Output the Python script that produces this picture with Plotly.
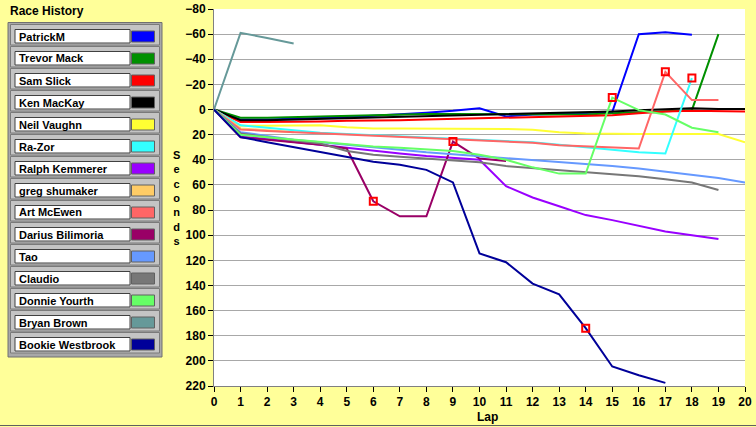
import plotly.graph_objects as go

laps = list(range(0, 21))
racers = ["PatrickM", "Trevor Mack", "Sam Slick", "Ken MacKay", "Neil Vaughn", "Ra-Zor",
          "Ralph Kemmerer", "greg shumaker", "Art McEwen", "Darius Bilimoria", "Tao",
          "Claudio", "Donnie Yourth", "Bryan Brown", "Bookie Westbrook"]
colors = ["#0000FF", "#009000", "#FF0000", "#000000", "#FFFF33", "#33FFFF",
          "#9900FF", "#FFCC66", "#FF6666", "#990066", "#6699FF",
          "#777777", "#66FF66", "#669999", "#000099"]

patrickm = [0, 8, 8, 7.5, 7, 6, 5, 4, 2.5, 1, -1, 5.5, 4, 3.5, 3, 2, -60, -61.5, -59.5]
trevor_mack = [0, 6.5, 6.5, 6, 5, 5, 4.5, 4, 3.5, 3.5, 3.5, 3.5, 4, 4, 4, 3, 2, 1, 0.5, -60]
sam_slick = [0, 10, 10, 10, 9.5, 9, 9, 8.5, 8, 7.5, 7, 6.5, 6.5, 6, 5, 4.5, 3, 1.5, 1, 1, 1.5]
ken_mackay = [0, 8.5, 8.5, 8, 7.5, 7, 6.5, 6, 5.5, 5, 4.5, 4, 3.5, 3, 2.5, 1.5, 0.5, 0, -1, -0.5, -0.5]
neil_vaughn = [0, 13, 13, 12.5, 12.5, 14, 15, 15, 15, 15.5, 15.5, 15.5, 16, 18, 19, 19.5, 19.5, 19.5, 19.5, 19.5, 26]
ra_zor = [0, 12.5, 14.5, 16.5, 18.5, 19.5, 20.5, 21.5, 22, 23, 24, 25, 26, 28, 30, 32, 34, 35, -25]
ralph_kemmerer = [0, 21.5, 23.5, 25.5, 28, 30.5, 33, 35, 37, 38.5, 40, 61, 70, 77, 84, 88, 92.5, 97, 100, 103]
greg_shumaker = [0, 15, 16.5, 18]
art_mcewen = [0, 16, 17, 18, 19, 20, 21, 21.5, 22.5, 23.5, 24.5, 25.5, 26.5, 28.5, 29.5, 30, 31, -30, -7.5, -7.5]
darius_bilimoria = [0, 22, 24, 26, 28, 31, 73, 85, 85, 25.5, 39, 41]
tao = [0, 18, 21, 24, 26, 28, 30.5, 32, 34, 35.5, 37, 38.5, 40, 41.5, 43, 45, 47, 49.5, 51.5, 54.5, 58]
claudio = [0, 19, 22, 24.5, 27, 33, 36, 37.5, 39, 41, 42, 45, 46.5, 48, 49.5, 51, 53, 55.5, 58, 64]
donnie_yourth = [0, 20, 22, 24, 26, 27.5, 29.5, 30.5, 31.5, 33, 36, 40, 46, 51, 51, -9.5, 0.5, 4, 14.5, 18]
bryan_brown = [0, -61, -57, -52.5]
bookie_westbrook = [0, 22, 26, 30, 34, 37.5, 41.5, 44, 48, 58, 114.5, 121.5, 138.5, 147, 174, 204.5, 211.5, 217.5]

series = [patrickm, trevor_mack, sam_slick, ken_mackay, neil_vaughn, ra_zor, ralph_kemmerer,
          greg_shumaker, art_mcewen, darius_bilimoria, tao, claudio, donnie_yourth,
          bryan_brown, bookie_westbrook]

# pit stops (racer, lap)
pit_racers = ["Darius Bilimoria", "Darius Bilimoria", "Bookie Westbrook", "Donnie Yourth", "Art McEwen", "Ra-Zor"]
pit_laps = [6, 9, 14, 15, 17, 18]

y_ticks = list(range(-80, 221, 20))
x_ticks = list(range(0, 21))

fig = go.Figure()
for name, col, vals in zip(racers, colors, series):
    fig.add_trace(go.Scatter(x=laps[:len(vals)], y=vals, mode="lines", name=name,
                             line=dict(color=col, width=2), showlegend=False))

pit_y = [series[racers.index(r)][l] for r, l in zip(pit_racers, pit_laps)]
fig.add_trace(go.Scatter(x=pit_laps, y=pit_y, mode="markers", showlegend=False,
                         marker=dict(symbol="square-open", size=7, color="#FF0000",
                                     line=dict(width=2, color="#FF0000"))))

W, H = 756, 427
L, R, T, B = 214, 745, 9, 386


def px(x):
    return (x - L) / (R - L)


def py(y):
    return (B - y) / (B - T)


FONT = "Liberation Sans, Arial"
shapes = []
annotations = []
# legend frame
shapes.append(dict(type="rect", xref="paper", yref="paper", x0=px(8), x1=px(162), y0=py(22.5), y1=py(357),
                   fillcolor="#A8A8A8", line=dict(color="#707070", width=1), layer="above"))
for k, (name, col) in enumerate(zip(racers, colors)):
    top = 24.5 + 22 * k
    shapes.append(dict(type="rect", xref="paper", yref="paper", x0=px(10.5), x1=px(159.5),
                       y0=py(top), y1=py(top + 20.5), fillcolor="#C4C4C4",
                       line=dict(color="#7A7A7A", width=1), layer="above"))
    shapes.append(dict(type="rect", xref="paper", yref="paper", x0=px(15), x1=px(130),
                       y0=py(top + 5), y1=py(top + 18.5), fillcolor="#FFFFFF",
                       line=dict(color="#404040", width=1), layer="above"))
    shapes.append(dict(type="rect", xref="paper", yref="paper", x0=px(131.5), x1=px(154.5),
                       y0=py(top + 6.5), y1=py(top + 17.5), fillcolor=col,
                       line=dict(color="#606060", width=1), layer="above"))
    annotations.append(dict(xref="paper", yref="paper", x=px(16.5), y=py(top + 12),
                            xanchor="left", yanchor="middle", text=name, showarrow=False,
                            font=dict(family=FONT, size=11, color="black", weight="bold")))

annotations.append(dict(xref="paper", yref="paper", x=px(8), y=py(11), xanchor="left", yanchor="middle",
                        text="Race History", showarrow=False,
                        font=dict(family=FONT, size=12, color="black", weight="bold")))
annotations.append(dict(xref="paper", yref="paper", x=px(487), y=py(417), xanchor="center", yanchor="middle",
                        text="Lap", showarrow=False,
                        font=dict(family=FONT, size=12, color="black", weight="bold")))
annotations.append(dict(xref="paper", yref="paper", x=px(176.5), y=py(198), xanchor="center", yanchor="middle",
                        text="<br>".join("Seconds"), showarrow=False,
                        font=dict(family=FONT, size=11, color="black", weight="bold")))
shapes.append(dict(type="line", xref="paper", yref="paper", x0=px(0), x1=px(756), y0=py(425.5), y1=py(425.5),
                   line=dict(color="#606060", width=1)))

fig.update_layout(
    width=W, height=H,
    margin=dict(l=L, r=W - R, t=T, b=H - B, autoexpand=False),
    paper_bgcolor="#FFFF99", plot_bgcolor="#FFFFFF",
    shapes=shapes, annotations=annotations,
    xaxis=dict(range=[0, 20], tickvals=x_ticks, ticks="outside", ticklen=5, tickcolor="black",
               automargin=False,
               showgrid=False, zeroline=False, showline=True, linecolor="#808080", linewidth=1,
               tickfont=dict(family=FONT, size=12, color="black", weight="bold")),
    yaxis=dict(range=[220, -80], tickvals=y_ticks, ticks="outside", ticklen=5, tickcolor="black",
               automargin=False,
               showgrid=True, gridcolor="#A8A8A8", gridwidth=1, zeroline=False, showline=True,
               linecolor="#808080", linewidth=1,
               tickfont=dict(family=FONT, size=12, color="black", weight="bold")),
)

fig.write_html("out.html", config={"displayModeBar": False},
               post_script="document.body.style.margin='0px';")
